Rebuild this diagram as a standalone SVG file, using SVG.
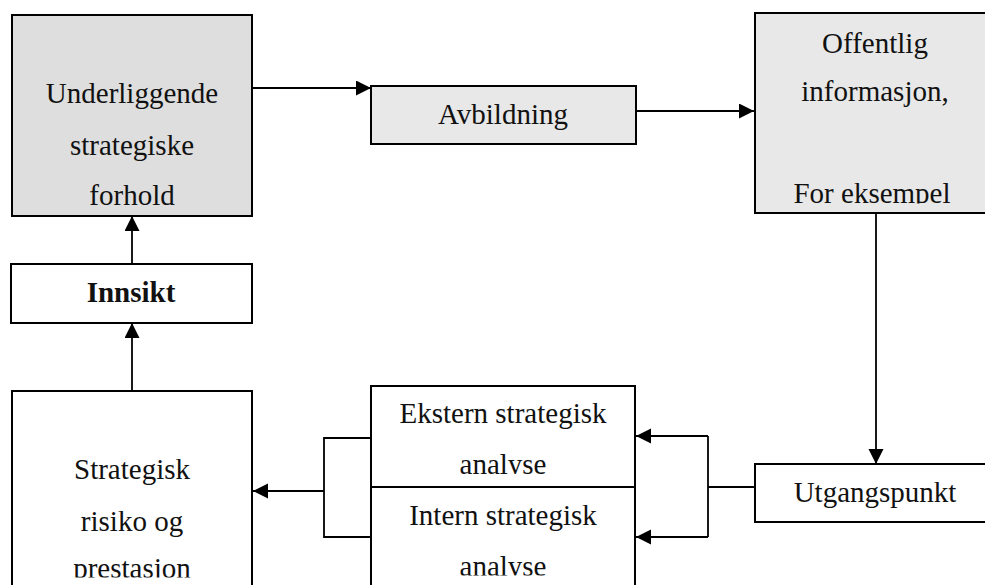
<svg xmlns="http://www.w3.org/2000/svg" width="985" height="585" viewBox="0 0 985 585">
  <style>
    .box { stroke: #000; stroke-width: 2; }
    .gray1 { fill: #dedede; }
    .gray2 { fill: #e8e8e8; }
    .white { fill: #fff; }
    .t { font-family: "Liberation Serif", "Times New Roman", serif; font-size: 29px; fill: #111; text-anchor: middle; }
    .b { font-weight: bold; }
    .conn { fill: none; stroke: #000; stroke-width: 1.8; }
  </style>
  <defs>
    <marker id="arr" markerUnits="userSpaceOnUse" markerWidth="16" markerHeight="16" refX="15" refY="7.5" orient="auto">
      <path d="M0,0 L15,7.5 L0,15 Z" fill="#000"/>
    </marker>
    <clipPath id="clipOff"><rect x="755" y="13" width="240" height="190.5"/></clipPath>
    <clipPath id="clipEks"><rect x="371" y="386" width="264" height="88"/></clipPath>
    <clipPath id="clipInt"><rect x="371" y="487" width="264" height="88.5"/></clipPath>
    <clipPath id="clipStr"><rect x="12" y="391" width="240" height="186.5"/></clipPath>
  </defs>
  <rect width="985" height="585" fill="#fff"/>

  <g id="connectors">
    <line class="conn" x1="252" y1="88" x2="371" y2="88" marker-end="url(#arr)"/>
    <line class="conn" x1="636" y1="111" x2="754" y2="111" marker-end="url(#arr)"/>
    <line class="conn" x1="876" y1="213" x2="876" y2="464" marker-end="url(#arr)"/>
    <line class="conn" x1="755" y1="487" x2="708" y2="487"/>
    <polyline class="conn" points="708,436 708,537"/>
    <line class="conn" x1="708" y1="436" x2="636" y2="436" marker-end="url(#arr)"/>
    <line class="conn" x1="708" y1="537" x2="636" y2="537" marker-end="url(#arr)"/>
    <polyline class="conn" points="371,438 324,438 324,537 371,537"/>
    <line class="conn" x1="324" y1="491" x2="253" y2="491" marker-end="url(#arr)"/>
    <line class="conn" x1="132" y1="391" x2="132" y2="323" marker-end="url(#arr)"/>
    <line class="conn" x1="132" y1="264" x2="132" y2="216" marker-end="url(#arr)"/>
  </g>

  <g id="underliggende">
    <rect class="box gray1" x="12" y="15" width="240" height="201"/>
    <text class="t" x="132" y="103">Underliggende</text>
    <text class="t" x="132" y="155">strategiske</text>
    <text class="t" x="132" y="205">forhold</text>
  </g>

  <g id="avbildning">
    <rect class="box gray2" x="371" y="86" width="265" height="58"/>
    <text class="t" x="503" y="124">Avbildning</text>
  </g>

  <g id="offentlig">
    <rect class="box gray2" x="755" y="13" width="240" height="200"/>
    <g clip-path="url(#clipOff)">
      <text class="t" x="875" y="53">Offentlig</text>
      <text class="t" x="875" y="101">informasjon,</text>
      <text class="t" x="872" y="203">For eksempel</text>
    </g>
  </g>

  <g id="innsikt">
    <rect class="box white" x="11" y="264" width="241" height="59"/>
    <text class="t b" x="131" y="302">Innsikt</text>
  </g>

  <g id="strategisk">
    <rect class="box white" x="12" y="391" width="240" height="210"/>
    <g clip-path="url(#clipStr)">
      <text class="t" x="132" y="479">Strategisk</text>
      <text class="t" x="132" y="531">risiko og</text>
      <text class="t" x="132" y="577.5">prestasjon</text>
    </g>
  </g>

  <g id="ekstern">
    <rect class="box white" x="371" y="386" width="264" height="101"/>
    <g clip-path="url(#clipEks)">
      <text class="t" x="503" y="423">Ekstern strategisk</text>
      <text class="t" x="503" y="474">analyse</text>
    </g>
  </g>

  <g id="intern">
    <rect class="box white" x="371" y="487" width="264" height="110"/>
    <g clip-path="url(#clipInt)">
      <text class="t" x="503" y="525">Intern strategisk</text>
      <text class="t" x="503" y="575.5">analyse</text>
    </g>
  </g>

  <g id="utgangspunkt">
    <rect class="box white" x="755" y="464" width="240" height="58"/>
    <text class="t" x="875" y="502">Utgangspunkt</text>
  </g>
</svg>
